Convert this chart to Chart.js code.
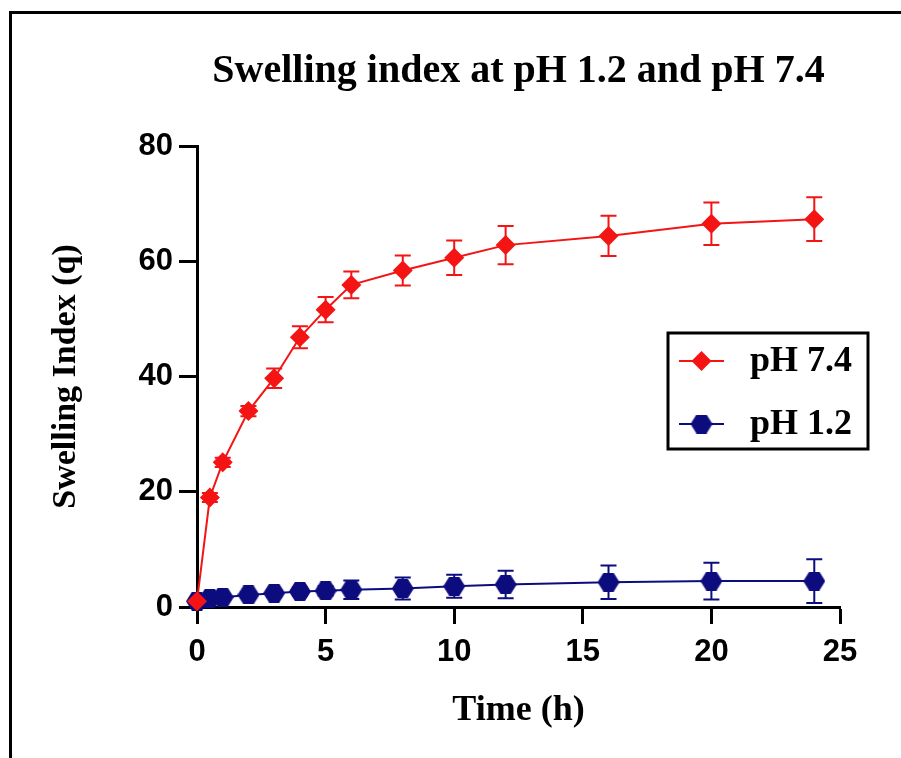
<!DOCTYPE html>
<html>
<head>
<meta charset="utf-8">
<script src="https://cdn.jsdelivr.net/npm/chart.js@4/dist/chart.umd.min.js"></script>
<style>
  html, body { margin: 0; padding: 0; background: #fff; }
  #wrap { position: relative; width: 901px; height: 758px; overflow: hidden; }
  #frame { position: absolute; left: 9px; top: 11px; width: 1000px; height: 1000px;
           border-left: 3px solid #000; border-top: 3px solid #000; pointer-events: none; }
</style>
</head>
<body>
<div id="wrap">
  <canvas id="c" width="901" height="758"></canvas>
  <div id="frame"></div>
</div>
<script>
// ---- data ----
const timeH   = [0, 0.5, 1, 2, 3, 4, 5, 6, 8, 10, 12, 16, 20, 24];
const ph74    = [1.0, 19.0, 25.1, 34.0, 39.7, 46.8, 51.6, 55.9, 58.4, 60.6, 62.8, 64.4, 66.5, 67.3];
const ph74Err = [0, 0.8, 0.8, 0.9, 1.7, 1.9, 2.2, 2.3, 2.6, 3.0, 3.3, 3.5, 3.7, 3.8];
const ph12    = [1.0, 1.5, 1.7, 2.1, 2.4, 2.7, 2.8, 3.0, 3.2, 3.6, 3.9, 4.3, 4.5, 4.5];
const ph12Err = [0.3, 0.4, 0.5, 0.5, 0.6, 0.7, 0.8, 1.6, 1.9, 2.0, 2.4, 2.9, 3.2, 3.8];
const seriesLabels = ['pH 7.4', 'pH 1.2'];
const xTickValues = [0, 5, 10, 15, 20, 25];
const yTickValues = [0, 20, 40, 60, 80];

const RED = '#f41414';
const BLUE = '#0c0c7e';

function hexMarker(color, w, h) {
  const c = document.createElement('canvas');
  c.width = w; c.height = h;
  const g = c.getContext('2d');
  g.fillStyle = color;
  g.beginPath();
  g.moveTo(0, h / 2);
  g.lineTo(w * 0.27, 0);
  g.lineTo(w * 0.73, 0);
  g.lineTo(w, h / 2);
  g.lineTo(w * 0.73, h);
  g.lineTo(w * 0.27, h);
  g.closePath();
  g.fill();
  return c;
}
const hexBlue = hexMarker(BLUE, 22, 19);

const toXY = (xs, ys) => xs.map((x, i) => ({ x: x, y: ys[i] }));

const errorBars = {
  id: 'errorBars',
  beforeDatasetsDraw(chart) {
    const ctx = chart.ctx;
    const xs = chart.scales.x, ys = chart.scales.y;
    chart.data.datasets.forEach((ds) => {
      const errs = ds.errors || [];
      ctx.save();
      ctx.strokeStyle = ds.borderColor;
      ctx.lineWidth = 2;
      ds.data.forEach((p, i) => {
        const e = errs[i];
        if (!e) return;
        const px = xs.getPixelForValue(p.x);
        const top = ys.getPixelForValue(p.y + e);
        const bot = ys.getPixelForValue(p.y - e);
        const cap = 8;
        ctx.beginPath();
        ctx.moveTo(px, top); ctx.lineTo(px, bot);
        ctx.moveTo(px - cap, top); ctx.lineTo(px + cap, top);
        ctx.moveTo(px - cap, bot); ctx.lineTo(px + cap, bot);
        ctx.stroke();
      });
      ctx.restore();
    });
  }
};

const boxLegend = {
  id: 'boxLegend',
  afterDraw(chart, args, opts) {
    const ctx = chart.ctx;
    ctx.save();
    ctx.lineWidth = 3;
    ctx.strokeStyle = '#000';
    ctx.strokeRect(opts.x, opts.y, opts.w, opts.h);
    chart.data.datasets.forEach((ds, i) => {
      const cy = opts.y + opts.firstRow + i * opts.rowGap;
      ctx.strokeStyle = ds.borderColor;
      ctx.lineWidth = 2;
      ctx.beginPath();
      ctx.moveTo(opts.x + opts.lineStart, cy);
      ctx.lineTo(opts.x + opts.lineEnd, cy);
      ctx.stroke();
      ctx.fillStyle = ds.backgroundColor;
      Chart.helpers.drawPoint(ctx, {
        pointStyle: ds.pointStyle, radius: ds.pointRadius, rotation: 0, borderWidth: 0
      }, opts.x + (opts.lineStart + opts.lineEnd) / 2, cy);
      ctx.fillStyle = '#000';
      ctx.font = 'bold 36px "Liberation Serif", "Times New Roman", serif';
      ctx.textAlign = 'left';
      ctx.textBaseline = 'middle';
      ctx.fillText(ds.label, opts.x + opts.textStart, cy + 1);
    });
    ctx.restore();
  }
};

const tickFont = { family: '"Liberation Sans", Arial, sans-serif', weight: 'bold', size: 31 };
const serifTitle = (size) => ({ family: '"Liberation Serif", "Times New Roman", serif', weight: 'bold', size: size });

new Chart(document.getElementById('c'), {
  type: 'line',
  data: {
    datasets: [
      {
        label: seriesLabels[0], data: toXY(timeH, ph74), errors: ph74Err,
        borderColor: RED, backgroundColor: RED, borderWidth: 2,
        pointStyle: 'rectRot', pointRadius: 10, pointHoverRadius: 10, pointBorderWidth: 0,
        tension: 0, clip: false
      },
      {
        label: seriesLabels[1], data: toXY(timeH, ph12), errors: ph12Err,
        borderColor: BLUE, backgroundColor: BLUE, borderWidth: 2,
        pointStyle: hexBlue, pointRadius: 10, pointHoverRadius: 10, pointBorderWidth: 0,
        tension: 0, clip: false
      }
    ]
  },
  options: {
    responsive: false,
    animation: false,
    events: [],
    layout: { padding: { left: 10, right: 61, top: 0, bottom: 0 } },
    plugins: {
      legend: { display: false },
      tooltip: { enabled: false },
      title: {
        display: true,
        text: 'Swelling index at pH 1.2 and pH 7.4',
        color: '#000',
        font: serifTitle(40),
        fullSize: false,
        padding: { top: 48, bottom: 50 }
      },
      boxLegend: { x: 668, y: 333, w: 200, h: 116, firstRow: 28, rowGap: 63,
                   lineStart: 11, lineEnd: 56, textStart: 82 }
    },
    scales: {
      x: {
        type: 'linear', min: 0, max: 25,
        afterBuildTicks: (s) => { s.ticks = xTickValues.map(v => ({ value: v })); },
        afterFit: (s) => { s.height = 151; },
        ticks: { color: '#000', font: tickFont, padding: 10, maxRotation: 0 },
        grid: { drawOnChartArea: false, drawTicks: true, tickLength: 17, tickWidth: 3, tickColor: '#000' },
        border: { display: true, width: 3, color: '#000' },
        title: { display: true, text: 'Time (h)', color: '#000', font: serifTitle(36),
                 padding: { top: 0, bottom: 26 } }
      },
      y: {
        type: 'linear', min: 0, max: 80,
        afterBuildTicks: (s) => { s.ticks = yTickValues.map(v => ({ value: v })); },
        afterFit: (s) => { s.width = 187; },
        ticks: { color: '#000', font: tickFont, padding: 6 },
        grid: { drawOnChartArea: false, drawTicks: true, tickLength: 18, tickWidth: 3, tickColor: '#000' },
        border: { display: true, width: 3, color: '#000' },
        title: { display: true, text: 'Swelling Index (q)', color: '#000', font: serifTitle(34),
                 padding: { top: 36, bottom: 0 } }
      }
    }
  },
  plugins: [errorBars, boxLegend]
});
</script>
</body>
</html>
